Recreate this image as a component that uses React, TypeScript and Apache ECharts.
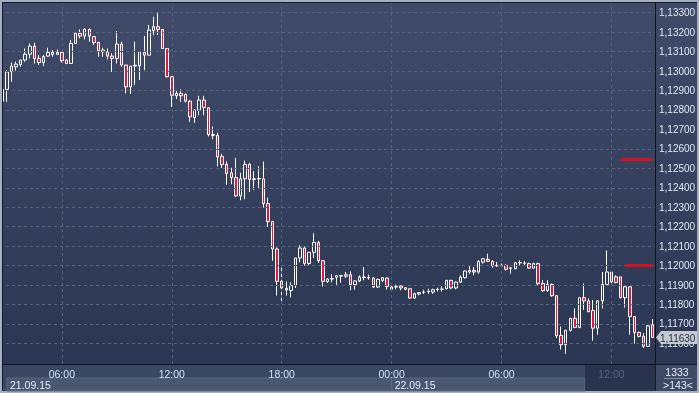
import React, { useEffect, useRef } from "react";
import * as echarts from "echarts";

// ---- data ----
// Each candle: [open, high, low, close], 15-minute bars starting 21.09.15 02:45
const day1Candles: [number, number, number, number][] = [
  [1.12845, 1.12906, 1.12842, 1.12906],
  [1.12906, 1.13005, 1.12842, 1.12996],
  [1.12996, 1.13044, 1.12945, 1.13026],
  [1.13022, 1.13048, 1.13002, 1.13036],
  [1.13034, 1.13057, 1.13022, 1.13057],
  [1.13057, 1.13116, 1.13048, 1.13087],
  [1.13087, 1.13142, 1.13065, 1.13128],
  [1.13128, 1.13146, 1.13039, 1.13065],
  [1.13065, 1.13082, 1.13031, 1.13044],
  [1.13044, 1.13082, 1.13026, 1.13074],
  [1.13077, 1.1312, 1.13074, 1.13096],
  [1.13096, 1.13108, 1.13074, 1.13086],
  [1.13086, 1.13111, 1.13082, 1.13096],
  [1.13096, 1.13103, 1.13044, 1.13053],
  [1.13057, 1.13062, 1.13036, 1.13039],
  [1.13039, 1.13159, 1.13039, 1.13142],
  [1.13142, 1.13197, 1.13139, 1.13194],
  [1.13194, 1.13214, 1.13168, 1.1318],
  [1.1318, 1.13219, 1.13163, 1.13216],
  [1.13214, 1.13219, 1.13151, 1.1318],
  [1.13177, 1.1318, 1.13134, 1.13147],
  [1.13147, 1.13151, 1.13074, 1.13104],
  [1.13099, 1.1312, 1.13074, 1.13108],
  [1.13099, 1.13116, 1.1306, 1.13077],
  [1.13077, 1.13091, 1.12996, 1.13065],
  [1.13065, 1.13206, 1.13039, 1.13139],
  [1.13139, 1.13151, 1.13022, 1.13031],
  [1.13031, 1.13031, 1.12885, 1.12919],
  [1.12919, 1.13026, 1.12882, 1.13026],
  [1.13026, 1.13151, 1.12928, 1.1303],
  [1.13027, 1.13099, 1.12954, 1.13099],
  [1.13096, 1.1318, 1.13005, 1.13082],
  [1.13082, 1.13237, 1.13082, 1.13211],
  [1.13209, 1.13279, 1.13185, 1.13228],
  [1.13228, 1.13302, 1.13185, 1.13214],
  [1.13214, 1.13214, 1.13116, 1.13116],
  [1.13116, 1.13116, 1.12967, 1.12971],
  [1.12971, 1.12974, 1.12816, 1.12876],
  [1.12873, 1.12902, 1.12856, 1.12885],
  [1.12885, 1.12906, 1.12842, 1.12873],
  [1.1288, 1.12885, 1.12839, 1.12845],
  [1.12845, 1.12851, 1.12739, 1.12765],
  [1.12761, 1.12804, 1.12734, 1.12799],
  [1.12799, 1.12873, 1.12773, 1.12851],
  [1.12851, 1.12873, 1.12773, 1.12813],
  [1.12811, 1.12815, 1.12664, 1.12673],
  [1.12674, 1.12715, 1.1265, 1.12669],
  [1.12669, 1.12683, 1.1251, 1.12558],
  [1.12561, 1.12575, 1.12502, 1.1252],
  [1.1252, 1.12536, 1.12416, 1.12473],
  [1.12477, 1.12503, 1.12418, 1.12452],
  [1.12452, 1.12554, 1.12353, 1.12358],
  [1.12358, 1.12477, 1.12336, 1.12446],
  [1.12446, 1.1254, 1.12341, 1.1252],
  [1.1252, 1.12528, 1.12378, 1.12443],
  [1.12443, 1.12486, 1.12388, 1.12446],
  [1.12446, 1.12511, 1.12397, 1.12448],
  [1.12446, 1.12535, 1.12298, 1.12319],
  [1.12319, 1.12349, 1.12199, 1.12226],
  [1.12226, 1.1223, 1.12025, 1.12085],
  [1.12085, 1.12093, 1.11846, 1.11919],
  [1.11919, 1.11994, 1.11803, 1.11885],
  [1.11883, 1.11918, 1.11846, 1.11875],
  [1.11872, 1.11914, 1.11836, 1.11897],
  [1.11897, 1.12039, 1.11885, 1.12039],
  [1.12039, 1.12105, 1.12017, 1.1209],
  [1.1209, 1.12098, 1.11999, 1.12011],
  [1.12011, 1.12071, 1.12003, 1.12068],
  [1.12068, 1.12167, 1.12039, 1.12119],
  [1.12119, 1.12127, 1.12013, 1.12025],
  [1.12025, 1.12025, 1.11892, 1.11919],
  [1.11918, 1.11935, 1.11911, 1.11931],
  [1.11931, 1.11957, 1.11914, 1.11933],
  [1.1194, 1.11952, 1.11901, 1.11948],
  [1.11948, 1.11952, 1.11911, 1.11946],
  [1.11953, 1.11967, 1.11936, 1.11945],
  [1.11953, 1.1197, 1.11873, 1.11902],
  [1.11902, 1.11924, 1.11876, 1.11921],
  [1.11921, 1.1195, 1.11915, 1.11941],
  [1.11941, 1.11993, 1.11924, 1.11939],
  [1.11939, 1.11953, 1.11927, 1.11936],
  [1.11936, 1.11941, 1.11885, 1.1189],
  [1.1189, 1.11933, 1.11885, 1.11929],
  [1.11924, 1.11938, 1.11915, 1.11938],
  [1.11936, 1.11939, 1.11876, 1.11893],
];

const day2Candles: [number, number, number, number][] = [
  [1.11878, 1.11898, 1.11873, 1.1189],
  [1.1189, 1.11902, 1.11878, 1.11891],
  [1.11895, 1.11898, 1.11873, 1.11885],
  [1.11886, 1.1189, 1.11873, 1.11878],
  [1.11881, 1.11881, 1.1183, 1.11833],
  [1.11833, 1.11861, 1.1183, 1.11855],
  [1.11854, 1.11864, 1.11847, 1.11861],
  [1.11863, 1.11876, 1.11854, 1.11864],
  [1.11866, 1.11881, 1.11855, 1.11867],
  [1.11864, 1.11881, 1.11855, 1.11876],
  [1.11877, 1.11886, 1.11867, 1.11878],
  [1.11878, 1.11893, 1.11867, 1.11879],
  [1.11881, 1.11927, 1.11878, 1.11924],
  [1.11924, 1.11927, 1.11878, 1.11885],
  [1.11885, 1.11919, 1.11878, 1.11915],
  [1.11915, 1.1195, 1.1191, 1.11941],
  [1.11938, 1.11975, 1.11933, 1.11972],
  [1.11967, 1.11998, 1.11958, 1.11975],
  [1.11975, 1.11993, 1.1195, 1.11967],
  [1.11967, 1.12027, 1.11958, 1.12022],
  [1.12018, 1.12039, 1.1201, 1.12035],
  [1.12032, 1.12061, 1.12018, 1.12022],
  [1.12022, 1.12027, 1.11989, 1.11998],
  [1.11999, 1.12018, 1.11993, 1.12001],
  [1.12001, 1.1201, 1.11993, 1.11999],
  [1.12001, 1.12006, 1.11975, 1.11981],
  [1.11986, 1.11993, 1.11958, 1.11988],
  [1.11984, 1.12018, 1.11981, 1.12015],
  [1.12015, 1.12027, 1.12001, 1.12014],
  [1.12013, 1.12022, 1.12001, 1.12012],
  [1.1201, 1.12015, 1.11984, 1.11987],
  [1.11987, 1.12015, 1.11984, 1.1201],
  [1.1201, 1.12015, 1.11898, 1.11907],
  [1.11908, 1.11925, 1.11865, 1.11871],
  [1.11871, 1.11925, 1.11865, 1.11903],
  [1.11903, 1.11908, 1.1184, 1.11845],
  [1.11845, 1.11848, 1.11627, 1.11639],
  [1.11641, 1.11687, 1.11568, 1.11593],
  [1.11593, 1.1167, 1.11546, 1.11667],
  [1.11667, 1.11729, 1.11661, 1.11729],
  [1.11729, 1.1178, 1.11678, 1.11682],
  [1.11682, 1.11835, 1.11678, 1.11835],
  [1.11835, 1.11908, 1.11772, 1.11818],
  [1.11818, 1.11831, 1.1176, 1.11763],
  [1.11769, 1.11823, 1.11614, 1.11678],
  [1.11678, 1.11823, 1.11644, 1.11818],
  [1.11818, 1.11967, 1.1178, 1.11903],
  [1.11903, 1.12078, 1.11899, 1.11967],
  [1.11967, 1.11971, 1.11908, 1.11916],
  [1.11942, 1.1195, 1.11908, 1.11913],
  [1.11942, 1.11942, 1.11831, 1.11835],
  [1.11835, 1.11894, 1.11784, 1.11891],
  [1.11891, 1.11891, 1.11644, 1.11738],
  [1.11738, 1.11738, 1.11599, 1.11656],
  [1.11656, 1.11661, 1.11631, 1.11636],
  [1.11636, 1.11653, 1.11576, 1.11585],
  [1.11585, 1.11695, 1.11581, 1.1169],
  [1.11695, 1.11725, 1.11627, 1.1163],
];

const firstCandleUTC = Date.UTC(2015, 8, 21, 2, 45);
const candleMinutes = 15;

const priceTicks = [
  1.116, 1.117, 1.118, 1.119, 1.12, 1.121, 1.122, 1.123, 1.124,
  1.125, 1.126, 1.127, 1.128, 1.129, 1.13, 1.131, 1.132, 1.133,
];
const labelHours = [0, 6, 12, 18];
const dateLabels = ["21.09.15", "22.09.15"];
const dayStartCategory = "2015-09-22 00:00";
const dimmedTimeCategory = "2015-09-22 12:00";

const levelLines = [
  { price: 1.12545, from: "2015-09-22 12:30", to: "2015-09-22 14:15" },
  { price: 1.12, from: "2015-09-22 12:45", to: "2015-09-22 14:15" },
];
const counterText = "1333";

const yMin = 1.11494;
const yMax = 1.1335;

// ---- helpers ----
const pad = (n: number) => (n < 10 ? "0" + n : "" + n);
const allCandles = [...day1Candles, ...day2Candles];
const categories = allCandles.map((_, i) => {
  const d = new Date(firstCandleUTC + i * candleMinutes * 60000);
  return `${d.getUTCFullYear()}-${pad(d.getUTCMonth() + 1)}-${pad(
    d.getUTCDate()
  )} ${pad(d.getUTCHours())}:${pad(d.getUTCMinutes())}`;
});
const isLabelCat = (v: string) =>
  v.slice(14, 16) === "00" && labelHours.includes(parseInt(v.slice(11, 13), 10));
const labelCats = categories.filter(isLabelCat);
const fmtPrice = (v: number) => v.toFixed(5).replace(".", ",");
const FONT = '"Liberation Sans", Arial, sans-serif';

export default function App() {
  const ref = useRef<HTMLDivElement>(null);
  useEffect(() => {
    if (!ref.current) return;
    const chart = echarts.init(ref.current, undefined, { renderer: "svg" });
    const candleData = allCandles.map(([o, h, l, c]) => [o, c, l, h]);
    const option: any = {
      animation: false,
      backgroundColor: "transparent",
      grid: {
        left: 0,
        top: 3,
        width: 655,
        height: 361,
        containLabel: false,
        outerBoundsMode: "none",
      },
      xAxis: {
        type: "category",
        data: categories,
        boundaryGap: true,
        axisLine: { show: true, lineStyle: { color: "#0f131b", width: 1 } },
        axisTick: { show: false },
        splitLine: { show: false },
        axisLabel: {
          interval: (_i: number, v: string) => isLabelCat(v),
          formatter: (v: string) => v.slice(11),
          color: (v: string) => (v === dimmedTimeCategory ? "#56647e" : "#d2e2f7"),
          fontSize: 10.5,
          fontFamily: FONT,
          margin: 4,
        },
      },
      yAxis: {
        type: "value",
        position: "right",
        min: yMin,
        max: yMax,
        axisLine: { show: true, lineStyle: { color: "#0f131b", width: 1 } },
        axisTick: { show: false },
        splitLine: { show: false },
        axisLabel: {
          customValues: priceTicks,
          formatter: (v: number) => fmtPrice(v),
          color: "#e2e8f1",
          fontSize: 10,
          fontFamily: FONT,
          margin: 4,
          align: "left",
        },
      },
      series: [
        {
          type: "line",
          data: [],
          z: 1,
          silent: true,
          markLine: {
            silent: true,
            precision: 6,
            symbol: ["none", "none"],
            label: { show: false },
            lineStyle: { color: "#56627d", type: [3, 3], width: 1 },
            emphasis: { disabled: true },
            data: [
              ...priceTicks.map((v) => ({ yAxis: v })),
              ...labelCats.map((c) => ({ xAxis: c })),
            ],
          },
        },
        {
          type: "candlestick",
          data: candleData,
          barWidth: 3,
          z: 3,
          itemStyle: {
            color: "rgba(0,0,0,0)",
            color0: "#e3163e",
            borderColor: "#ffffff",
            borderColor0: "#ffffff",
            borderColorDoji: "#ffffff",
            borderWidth: 1,
          },
          markLine: {
            silent: true,
            precision: 6,
            symbol: ["none", "none"],
            label: { show: false },
            lineStyle: { color: "#d4121f", type: "solid", width: 3 },
            data: levelLines.map((l) => [
              { coord: [l.from, l.price] },
              { coord: [l.to, l.price] },
            ]),
          },
        },
      ],
    };
    chart.setOption(option);

    const lastClose = allCandles[allCandles.length - 1][3];
    const yLast = chart.convertToPixel({ yAxisIndex: 0 }, lastClose) as number;
    const xMid = chart.convertToPixel({ xAxisIndex: 0 }, dayStartCategory) as number;
    const gradient = new echarts.graphic.LinearGradient(0, 0, 0, 1, [
      { offset: 0, color: "#3f4b68" },
      { offset: 1, color: "#2b3653" },
    ]);
    const gradient2 = new echarts.graphic.LinearGradient(0, 0, 0, 1, [
      { offset: 0, color: "#3f4b68" },
      { offset: 1, color: "#2b3653" },
    ]);
    const textStyle = (extra: any) => ({
      fontSize: 10.5,
      fontFamily: FONT,
      fill: "#e4eaf2",
      ...extra,
    });
    chart.setOption({
      graphic: [
        { type: "rect", z: -20, silent: true, shape: { x: 0, y: 0, width: 699, height: 393 }, style: { fill: "#a5afbf" } },
        { type: "rect", z: -19, silent: true, shape: { x: 2, y: 2, width: 695, height: 389 }, style: { fill: "#141922" } },
        { type: "rect", z: -18, silent: true, shape: { x: 3, y: 3, width: 652, height: 361 }, style: { fill: gradient } },
        { type: "rect", z: -18, silent: true, shape: { x: 656, y: 3, width: 41, height: 361 }, style: { fill: gradient2 } },
        { type: "rect", z: -18, silent: true, shape: { x: 3, y: 365, width: 652, height: 26 }, style: { fill: "#3b4762" } },
        { type: "rect", z: -18, silent: true, shape: { x: 656, y: 365, width: 41, height: 26 }, style: { fill: "#3e4a65" } },
        { type: "rect", z: -17, silent: true, shape: { x: 7, y: 378, width: xMid - 7, height: 13 }, style: { fill: "#4a5772", stroke: "#5b6883", lineWidth: 1 } },
        { type: "rect", z: -17, silent: true, shape: { x: xMid, y: 378, width: 585 - xMid, height: 13 }, style: { fill: "#4a5772", stroke: "#5b6883", lineWidth: 1 } },
        { type: "rect", z: -16, silent: true, shape: { x: 585, y: 365, width: 70, height: 26 }, style: { fill: "#29334e" } },
        { type: "text", z: 100, silent: true, x: 10, y: 384.5, style: textStyle({ text: dateLabels[0], verticalAlign: "middle" }) },
        { type: "text", z: 100, silent: true, x: xMid + 3, y: 384.5, style: textStyle({ text: dateLabels[1], verticalAlign: "middle" }) },
        { type: "text", z: 100, silent: true, x: 677, y: 372, style: textStyle({ text: counterText, align: "center", verticalAlign: "middle" }) },
        { type: "line", z: 100, silent: true, shape: { x1: 664, y1: 378.5, x2: 692, y2: 378.5 }, style: { stroke: "#8390a8", lineWidth: 1 } },
        { type: "text", z: 100, silent: true, x: 678, y: 384.5, style: textStyle({ text: `>${allCandles.length}<`, align: "center", verticalAlign: "middle" }) },
        {
          type: "polygon",
          z: 100,
          silent: true,
          shape: {
            points: [
              [656, yLast],
              [661, yLast - 6.5],
              [697, yLast - 6.5],
              [697, yLast + 6.5],
              [661, yLast + 6.5],
            ],
          },
          style: { fill: "#c5c9d1" },
        },
        { type: "text", z: 101, silent: true, x: 660, y: yLast + 0.5, style: textStyle({ text: fmtPrice(lastClose), fontSize: 10, fill: "#28313f", verticalAlign: "middle" }) },
        { type: "rect", z: 100, silent: true, shape: { x: 0, y: 0, width: 2, height: 393 }, style: { fill: "#a5afbf" } },
        { type: "rect", z: 100, silent: true, shape: { x: 2, y: 2, width: 1, height: 389 }, style: { fill: "#141922" } },
      ],
    });
    return () => chart.dispose();
  }, []);
  return (
    <div
      ref={ref}
      style={{ position: "fixed", left: 0, top: 0, width: 699, height: 393 }}
    />
  );
}
